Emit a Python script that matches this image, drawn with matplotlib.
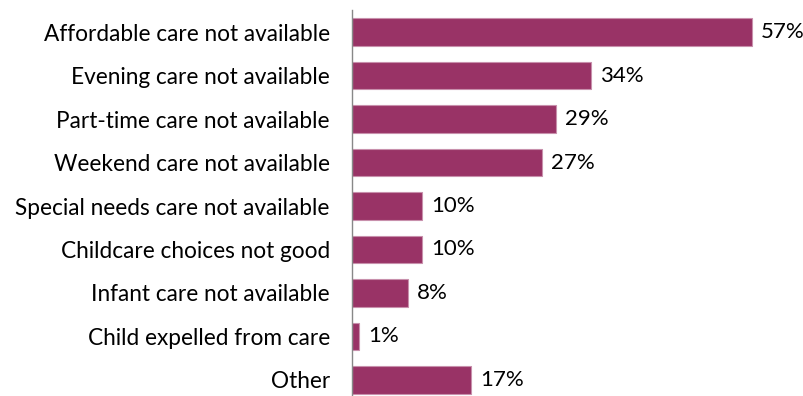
import matplotlib
matplotlib.use('Agg')
from matplotlib import pyplot as plt

reasons = ['Affordable care not available', 'Evening care not available',
           'Part-time care not available', 'Weekend care not available',
           'Special needs care not available', 'Childcare choices not good',
           'Infant care not available', 'Child expelled from care', 'Other']
percent = [57, 34, 29, 27, 10, 10, 8, 1, 17]

plt.rcParams['font.family'] = ['Lato', 'DejaVu Sans']

fig = plt.figure(figsize=(8.04, 3.96), dpi=100)
ax = fig.add_axes([352 / 804, 0, 450 / 804, 386 / 396])

pos = list(range(len(reasons)))
ax.barh(pos, percent, height=0.64, color='#993366', edgecolor='#c890ac', linewidth=0.8)
ax.set_xlim(0, 450 / 7.02)
ax.set_ylim(8.368, -0.506)

for y, v in zip(pos, percent):
    ax.text(v + 9 / 7.02, y, f'{v}%', va='center', ha='left', fontsize=16, color='black',
            clip_on=False)

ax.set_yticks(pos)
ax.set_yticklabels(reasons, fontsize=16.3)
ax.tick_params(axis='y', length=0, pad=16)
ax.set_xticks([])
for s in ['top', 'right', 'bottom']:
    ax.spines[s].set_visible(False)
ax.spines['left'].set_color('#888888')
ax.spines['left'].set_linewidth(1)

fig.savefig('out.png', dpi=100)
